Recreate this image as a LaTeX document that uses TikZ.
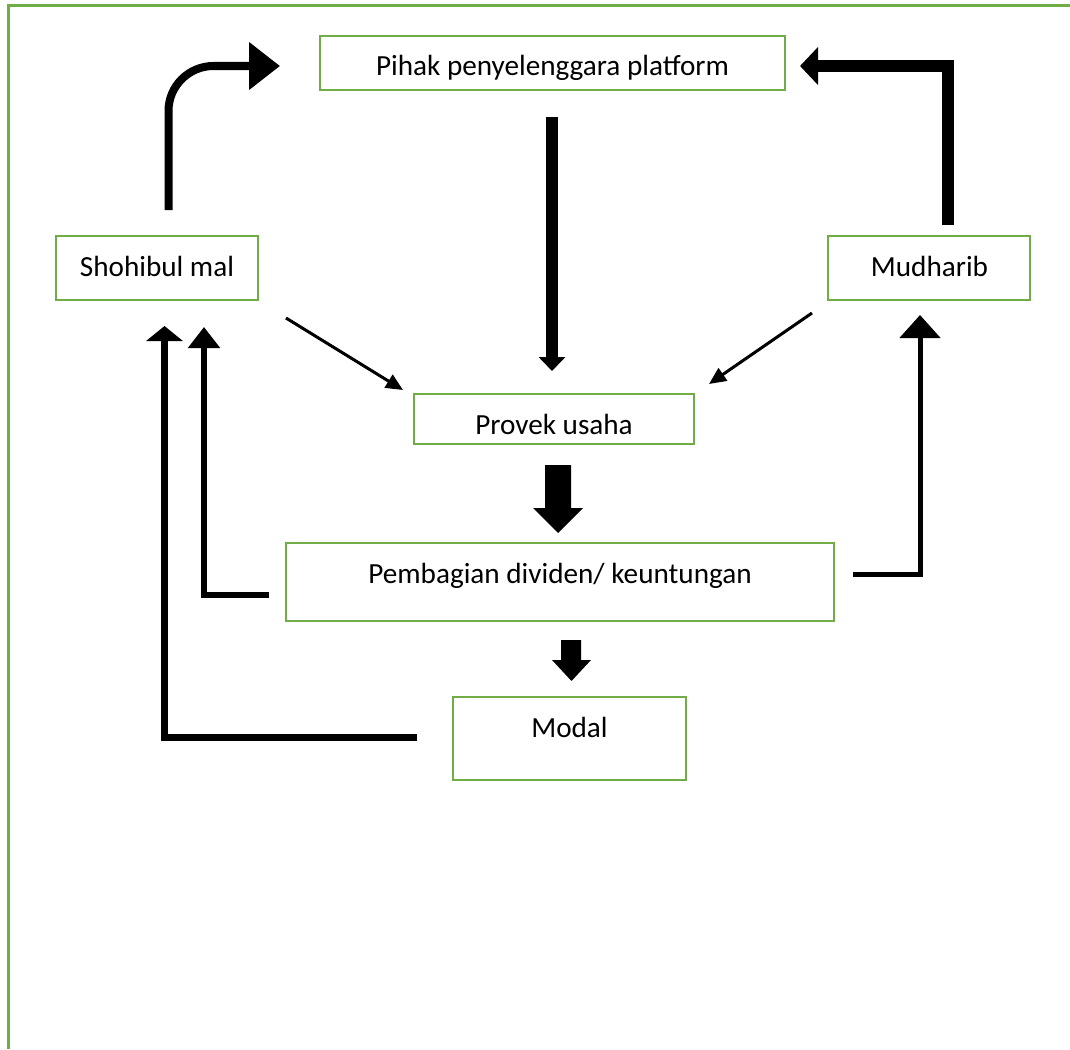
\documentclass[tikz,border=0pt]{standalone}
\usepackage{fontspec}
\setmainfont{Carlito}
\usetikzlibrary{arrows.meta,calc}
\definecolor{ogreen}{RGB}{112,173,71}
\begin{document}
\begin{tikzpicture}[x=1pt,y=-1pt,
  box/.style={draw=ogreen, line width=2.8pt, rectangle, inner sep=0pt, outer sep=0pt},
  lbl/.style={font=\fontsize{29.2}{35}\selectfont, inner sep=0pt, anchor=base},
  conn/.style={draw=black, line join=miter},
  blockarrow/.style={fill=black, draw=none}]
\useasboundingbox (0,0) rectangle (1070,1049);
\draw[ogreen, line width=3pt] (8,1049) -- (8,6) -- (1070,6);

% boxes
\node[box, minimum width=465pt, minimum height=54pt] (pihak) at (552.5,63) {};
\node[box, minimum width=202pt, minimum height=64pt] (shohib) at (157,268) {};
\node[box, minimum width=202pt, minimum height=64pt] (mudh) at (929,268) {};
\node[box, minimum width=280pt, minimum height=50pt] (provek) at (554,419) {};
\node[box, minimum width=548pt, minimum height=78pt] (pemb) at (560,582) {};
\node[box, minimum width=233pt, minimum height=83pt] (modal) at (569.5,738.5) {};

% texts
\node[lbl] (pihakT) at (552.5,75) {Pihak penyelenggara platform};
\node[lbl] (shohibT) at (157,276) {Shohibul mal};
\node[lbl] (mudhT) at (929.5,276) {Mudharib};
\node[lbl] (provekT) at (554,434) {Provek usaha};
\node[lbl] (pembT) at (560,583) {Pembagian dividen/ keuntungan};
\node[lbl] (modalT) at (569.5,737) {Modal};

% connector coordinates
\coordinate (c1s) at (168.5,210);
\coordinate (c1m) at (168.5,66);
\coordinate (c1e) at (280,66);
\coordinate (c2s) at (948,225);
\coordinate (c2m) at (948,66);
\coordinate (c2e) at (800,66);
\coordinate (c3s) at (552,117);
\coordinate (c3e) at (552,371);
\coordinate (c4s) at (286,318);
\coordinate (c4e) at (403,390);
\coordinate (c5s) at (812,313);
\coordinate (c5e) at (709,384);
\coordinate (c6s) at (269,595);
\coordinate (c6m) at (204,595);
\coordinate (c6e) at (204,327);
\coordinate (c7s) at (417,737.5);
\coordinate (c7m) at (164.5,737.5);
\coordinate (c7e) at (164.5,326);
\coordinate (c8s) at (853,574.5);
\coordinate (c8m) at (920,574.5);
\coordinate (c8e) at (920,315);

% Shohibul mal -> platform (rounded)
\draw[conn, line width=8pt, rounded corners=45pt, -{Triangle[length=31pt,width=46pt]}]
  (c1s) -- (c1m) -- (c1e);
% Mudharib -> platform
\draw[conn, line width=12pt, -{Triangle[length=18pt,width=37pt]}]
  (c2s) -- (c2m) -- (c2e);
% platform -> provek
\draw[conn, line width=12pt, -{Triangle[length=14pt,width=26pt]}] (c3s) -- (c3e);
% thin arrows
\draw[conn, line width=3pt, -{Triangle[length=17pt,width=15pt]}] (c4s) -- (c4e);
\draw[conn, line width=3pt, -{Triangle[length=17pt,width=15pt]}] (c5s) -- (c5e);
% pembagian -> shohibul
\draw[conn, line width=6pt, -{Triangle[length=21pt,width=31pt]}]
  (c6s) -- (c6m) -- (c6e);
% modal -> shohibul
\draw[conn, line width=7pt, -{Triangle[length=15pt,width=36pt]}]
  (c7s) -- (c7m) -- (c7e);
% pembagian -> mudharib
\draw[conn, line width=5pt, -{Triangle[length=23pt,width=40pt]}]
  (c8s) -- (c8m) -- (c8e);

% block arrows
\fill[blockarrow] (545,465) -- (571,465) -- (571,508) -- (583,508) -- (558,533) -- (533,508) -- (545,508) -- cycle;
\fill[blockarrow] (561,640) -- (581,640) -- (581,660) -- (591,660) -- (571.5,681) -- (552,660) -- (561,660) -- cycle;
\end{tikzpicture}
\end{document}
